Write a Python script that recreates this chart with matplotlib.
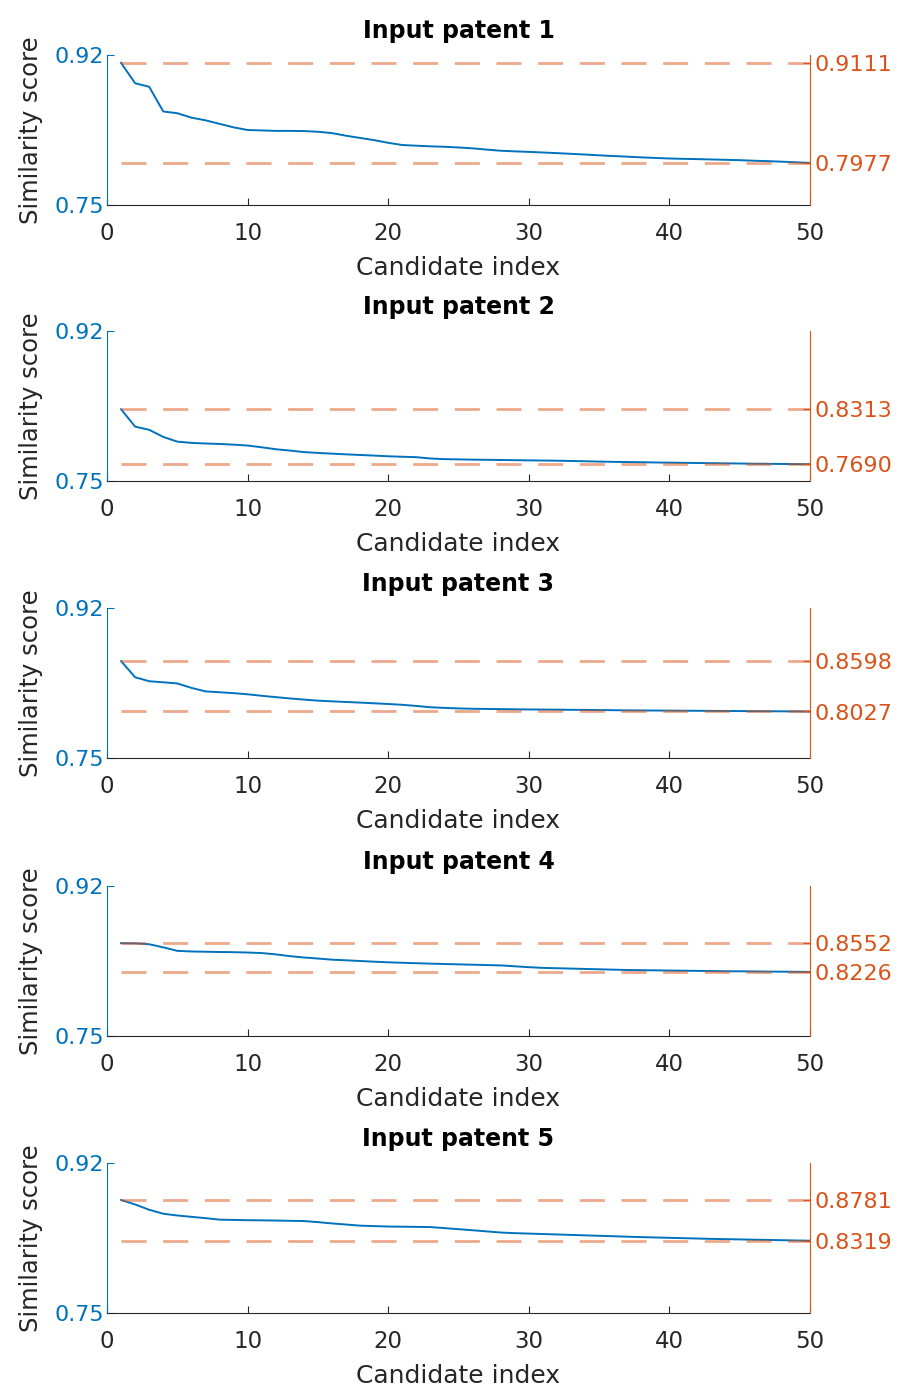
import numpy as np
import matplotlib.pyplot as plt

plt.rcParams['font.family'] = ['DejaVu Sans']

idx = np.arange(1, 51)

sim1 = [0.9111, 0.888, 0.884, 0.856, 0.854, 0.849, 0.846, 0.842, 0.838, 0.835,
        0.8345, 0.834, 0.834, 0.8338, 0.833, 0.8315, 0.8285, 0.826, 0.8235, 0.8205,
        0.818, 0.8172, 0.8165, 0.816, 0.8152, 0.8142, 0.8128, 0.8115, 0.8108, 0.8102,
        0.8095, 0.8088, 0.808, 0.8072, 0.8063, 0.8055, 0.8048, 0.804, 0.8033, 0.8027,
        0.8023, 0.802, 0.8016, 0.8012, 0.8008, 0.8002, 0.7997, 0.7991, 0.7984, 0.7977]
sim2 = [0.8313, 0.8116, 0.808, 0.800, 0.7946, 0.7932, 0.7925, 0.792, 0.7912, 0.7902,
        0.7882, 0.786, 0.7845, 0.7828, 0.7818, 0.781, 0.7802, 0.7795, 0.7788, 0.778,
        0.7775, 0.777, 0.7755, 0.7748, 0.7745, 0.7742, 0.774, 0.7738, 0.7736, 0.7734,
        0.7732, 0.773, 0.7727, 0.7724, 0.772, 0.7717, 0.7715, 0.7713, 0.771, 0.7708,
        0.7706, 0.7704, 0.7702, 0.770, 0.7698, 0.7696, 0.7695, 0.7693, 0.7692, 0.769]
sim3 = [0.8598, 0.8415, 0.837, 0.8358, 0.8345, 0.8295, 0.8255, 0.8245, 0.8235, 0.8222,
        0.8205, 0.819, 0.8175, 0.8162, 0.815, 0.8142, 0.8135, 0.8128, 0.812, 0.8112,
        0.8103, 0.809, 0.8075, 0.8068, 0.8062, 0.8058, 0.8056, 0.8054, 0.8052, 0.805,
        0.8049, 0.8048, 0.8046, 0.8045, 0.8043, 0.8042, 0.804, 0.8039, 0.8038, 0.8037,
        0.8036, 0.8035, 0.8034, 0.8033, 0.8032, 0.8031, 0.803, 0.8029, 0.8028, 0.8027]
sim4 = [0.8552, 0.855, 0.854, 0.8505, 0.8465, 0.8458, 0.8455, 0.8452, 0.845, 0.8446,
        0.844, 0.8425, 0.8405, 0.839, 0.8378, 0.8365, 0.8358, 0.835, 0.8342, 0.8335,
        0.833, 0.8325, 0.832, 0.8316, 0.8312, 0.8308, 0.8304, 0.830, 0.829, 0.828,
        0.8272, 0.8268, 0.8264, 0.826, 0.8256, 0.8252, 0.8248, 0.8246, 0.8244, 0.8242,
        0.824, 0.8238, 0.8236, 0.8234, 0.8233, 0.8232, 0.823, 0.8229, 0.8228, 0.8226]
sim5 = [0.8781, 0.873, 0.867, 0.8625, 0.8605, 0.859, 0.8575, 0.8558, 0.8555, 0.8552,
        0.855, 0.8548, 0.8545, 0.8542, 0.853, 0.8515, 0.8503, 0.849, 0.8485, 0.848,
        0.8478, 0.8476, 0.8474, 0.8462, 0.845, 0.8438, 0.8425, 0.8412, 0.8405, 0.840,
        0.8395, 0.839, 0.8385, 0.838, 0.8375, 0.837, 0.8365, 0.836, 0.8356, 0.8352,
        0.8348, 0.8344, 0.834, 0.8337, 0.8334, 0.8331, 0.8328, 0.8325, 0.8322, 0.8319]

series = [sim1, sim2, sim3, sim4, sim5]
titles = ['Input patent 1', 'Input patent 2', 'Input patent 3', 'Input patent 4', 'Input patent 5']

blue = '#0072BD'
orange = '#D95319'
dark = '#262626'

W, H = 906, 1390
fig = plt.figure(figsize=(W / 100, H / 100), dpi=100)

tops = [55, 331, 608, 886, 1163]
for k, (s, title) in enumerate(zip(series, titles)):
    top = tops[k]
    ax = fig.add_axes([107 / W, 1 - (top + 150) / H, 703 / W, 150 / H])
    ax.plot(idx, s, color=blue, lw=1.4, zorder=3)
    ax.set_xlim(0, 50)
    ax.set_ylim(0.75, 0.92)
    ax.set_xticks([0, 10, 20, 30, 40, 50])
    ax.set_yticks([0.75, 0.92])
    ax.set_yticklabels(['0.75', '0.92'])
    ax.tick_params(axis='x', direction='in', colors=dark, labelsize=16.5, length=5, pad=12)
    ax.tick_params(axis='y', direction='in', colors=blue, labelsize=16, length=5, pad=2)
    ax.spines['top'].set_visible(False)
    ax.spines['right'].set_visible(False)
    ax.spines['left'].set_color(blue)
    ax.spines['bottom'].set_color(dark)
    ax.set_xlabel('Candidate index', fontsize=18, color=dark, labelpad=8)
    ax.set_ylabel('Similarity score', fontsize=17.5, color=dark, labelpad=8)
    ax.set_title(title, fontsize=17, fontweight='bold', color='black', pad=12)

    hi, lo = s[0], s[-1]
    ax2 = ax.twinx()
    ax2.set_ylim(0.75, 0.92)
    ax2.plot([idx[0], idx[-1]], [hi, hi], color=orange, alpha=0.5, lw=2, dashes=(9, 6))
    ax2.plot([idx[0], idx[-1]], [lo, lo], color=orange, alpha=0.5, lw=2, dashes=(9, 6))
    ax2.set_yticks([lo, hi])
    ax2.set_yticklabels(['%.4f' % lo, '%.4f' % hi])
    ax2.tick_params(axis='y', direction='in', colors=orange, labelsize=16, length=5, pad=3)
    for sp in ['top', 'left', 'bottom']:
        ax2.spines[sp].set_visible(False)
    ax2.spines['right'].set_color(orange)

fig.savefig('out.png', dpi=100)
